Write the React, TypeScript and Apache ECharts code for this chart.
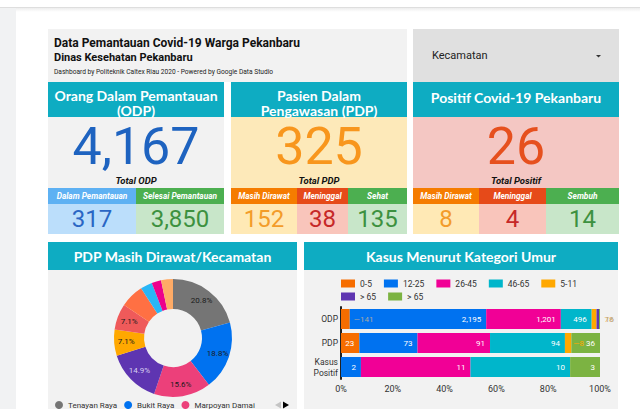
import React, { useEffect, useRef } from "react";
import * as echarts from "echarts";

// ---- Scorecards ----
const cardTitles = [
  ["Orang Dalam Pemantauan", "(ODP)"],
  ["Pasien Dalam", "Pengawasan (PDP)"],
  ["Positif Covid-19 Pekanbaru"],
];
const cardTotals = [4167, 325, 26];
const cardTotalLabels = ["Total ODP", "Total PDP", "Total Positif"];
const odpLabels = ["Dalam Pemantauan", "Selesai Pemantauan"];
const odpValues = [317, 3850];
const pdpLabels = ["Masih Dirawat", "Meninggal", "Sehat"];
const pdpValues = [152, 38, 135];
const positifLabels = ["Masih Dirawat", "Meninggal", "Sembuh"];
const positifValues = [8, 4, 14];

// ---- PDP masih dirawat per kecamatan ----
const pieNames = [
  "Tenayan Raya",
  "Bukit Raya",
  "Marpoyan Damai",
  "Tampan",
  "Payung Sekaki",
  "Sukajadi",
  "Lima Puluh",
  "Rumbai Pesisir",
  "Senapelan",
  "Sail",
];
const pieValues = [32, 29, 24, 23, 11, 11, 10, 5, 4, 5];
const pieLegendPage = pieNames.slice(0, 3);

// ---- Kasus menurut kategori umur ----
const ageGroups = ["0-5", "12-25", "26-45", "46-65", "5-11", "> 65", "> 65 "];
const caseRows = ["ODP", "PDP", "Kasus\nPositif"];
const odpByAge = [141, 2195, 1201, 496, 78, 40, 16];
const pdpByAge = [23, 73, 91, 94, 8, 0, 36];
const positifByAge = [0, 2, 11, 10, 0, 0, 3];

// ---- styling ----
const TEAL = "#0eacc2";
const FONT = "Roboto";
const HEAD_FONT = "Lato";
const pieColors = ["#757575", "#0072f0", "#ec407a", "#5e35b1", "#ffa800", "#ef5a5a", "#ff7043", "#29b6f6", "#ec008c", "#ffab66"];
const pieLabelColors = ["#1a1a1a", "#1a1a1a", "#1a1a1a", "#d8d0f0", "#1a1a1a", "#1a1a1a", "#1a1a1a", "#1a1a1a", "#1a1a1a", "#1a1a1a"];
const ageColors = ["#f66d00", "#0072f0", "#f10096", "#00b6cb", "#ffa800", "#5e35b1", "#7cb342"];

const fmt = (n: number) => n.toLocaleString("en-US");

const rect = (x: number, y: number, w: number, h: number, fill: string, z = 0) => ({
  type: "rect",
  silent: true,
  z,
  shape: { x, y, width: w, height: h },
  style: { fill },
});

const text = (x: number, y: number, t: string, font: string, fill: string, align = "center", lineHeight?: number) => ({
  type: "text",
  silent: true,
  z: 1,
  x,
  y,
  style: { text: t, font, fill, textAlign: align, textVerticalAlign: "middle", ...(lineHeight ? { lineHeight } : {}) },
});

const tri = (points: number[][], fill: string) => ({
  type: "polygon",
  silent: true,
  z: 3,
  shape: { points },
  style: { fill },
});

type Card = {
  x: number;
  w: number;
  body: string;
  numColor: string;
  splits: number[];
  subHead: string[];
  subBg: string[];
  subColor: string[];
  labels: string[];
  values: number[];
};

const cards: Card[] = [
  {
    x: 48, w: 176, body: "#f2f2f2", numColor: "#1e63c0", splits: [48, 136, 224],
    subHead: ["#5eb1f3", "#4caf50"], subBg: ["#bbdefb", "#c8e6c9"], subColor: ["#2a66c4", "#3d9140"],
    labels: odpLabels, values: odpValues,
  },
  {
    x: 231, w: 176, body: "#fde9b9", numColor: "#f8961d", splits: [231, 297, 348, 407],
    subHead: ["#f57c00", "#e64a19", "#4caf50"], subBg: ["#ffe9b5", "#f9c5bb", "#c8e6c9"], subColor: ["#f39c2a", "#c62828", "#3d9140"],
    labels: pdpLabels, values: pdpValues,
  },
  {
    x: 413, w: 206, body: "#f4c7c3", numColor: "#e6501e", splits: [413, 479, 546, 619],
    subHead: ["#f57c00", "#e64a19", "#4caf50"], subBg: ["#ffe9b5", "#f9c5bb", "#c8e6c9"], subColor: ["#f39c2a", "#c62828", "#3d9140"],
    labels: positifLabels, values: positifValues,
  },
];

function buildGraphics() {
  const g: any[] = [];
  // page chrome
  g.push(rect(0, 7, 640, 1, "#dedede"));
  g.push({
    type: "rect", silent: true, z: 0, shape: { x: 0, y: 8, width: 640, height: 4 },
    style: { fill: new echarts.graphic.LinearGradient(0, 0, 0, 1, [{ offset: 0, color: "rgba(0,0,0,0.07)" }, { offset: 1, color: "rgba(0,0,0,0)" }]) },
  });
  g.push(rect(0, 8, 16, 401, "#f1f2f3"));

  // title block
  g.push(rect(48, 29, 359, 53, "#f2f2f2"));
  g.push(text(54, 43, "Data Pemantauan Covid-19 Warga Pekanbaru", `bold 12px ${FONT}`, "#111", "left"));
  g.push(text(54, 57, "Dinas Kesehatan Pekanbaru", `bold 11px ${FONT}`, "#111", "left"));
  g.push(text(54, 72, "Dashboard by Politeknik Caltex Riau 2020 - Powered by Google Data Studio", `6.6px ${FONT}`, "#222", "left"));

  // dropdown
  g.push(rect(413, 29, 206, 53, "#e0e0e0"));
  g.push(text(432, 55, "Kecamatan", `11px ${FONT}`, "#222", "left"));
  g.push(tri([[596, 55], [601, 55], [598.5, 57.5]], "#333"));

  // scorecards
  cards.forEach((c, i) => {
    const cx = c.x + c.w / 2;
    g.push(rect(c.x, 82, c.w, 35, TEAL));
    const lines = cardTitles[i];
    if (lines.length === 2) {
      g.push(text(cx, 95, lines[0], `bold 14px ${HEAD_FONT}`, "#fff"));
      g.push(text(cx, 110, lines[1], `bold 14px ${HEAD_FONT}`, "#fff"));
    } else {
      g.push(text(cx, 97, lines[0], `bold 14px ${HEAD_FONT}`, "#fff"));
    }
    g.push(rect(c.x, 117, c.w, 71, c.body));
    g.push(text(cx, 146.5, fmt(cardTotals[i]), `52px ${FONT}`, c.numColor, "center", 40));
    g.push(text(cx, 180.5, cardTotalLabels[i], `italic bold 9.5px ${FONT}`, "#111", "center", 9));
    c.values.forEach((v, j) => {
      const sx = c.splits[j];
      const sw = c.splits[j + 1] - sx;
      g.push(rect(sx, 188, sw, 16, c.subHead[j]));
      g.push(text(sx + sw / 2, 196, c.labels[j], `italic bold 8.3px ${FONT}`, "#fff"));
      g.push(rect(sx, 204, sw, 30, c.subBg[j]));
      g.push(text(sx + sw / 2, 219, fmt(v), `24px ${FONT}`, c.subColor[j], "center", 22));
    });
  });

  // lower panels
  g.push(rect(48, 242, 249, 28, TEAL));
  g.push(rect(48, 270, 249, 139, "#f2f2f2"));
  g.push(text(172.5, 256, "PDP Masih Dirawat/Kecamatan", `bold 14px ${HEAD_FONT}`, "#fff"));
  g.push(rect(304, 242, 314, 28, TEAL));
  g.push(rect(304, 270, 314, 139, "#f2f2f2"));
  g.push(text(461, 256, "Kasus Menurut Kategori Umur", `bold 14px ${HEAD_FONT}`, "#fff"));

  // legend pager arrows (first page: back disabled, forward active)
  g.push(tri([[275, 405], [281, 401.5], [281, 408.5]], "#c4c4c4"));
  g.push(tri([[289, 405], [283, 401.5], [283, 408.5]], "#000"));
  return g;
}

// label placements for segments too narrow to hold their value
const smallLabels: Record<string, any> = {
  "0-0": { position: "right", distance: 4, color: "#a8a8a8", prefix: "—" },
  "0-4": { position: "right", distance: 8, color: "#f3b65a", prefix: "" },
  "0-5": { show: false },
  "0-6": { position: "right", distance: 5, color: "#b0a890", prefix: "" },
  "1-4": { position: "right", distance: 2, color: "#ffa800", prefix: "—" },
};

function buildBars() {
  const rows = [odpByAge, pdpByAge, positifByAge];
  const totals = rows.map((r) => r.reduce((a, b) => a + b, 0));
  return ageGroups.map((name, gi) => ({
    type: "bar",
    name,
    stack: "umur",
    barWidth: 20,
    itemStyle: { color: ageColors[gi] },
    label: {
      show: true,
      position: "insideRight",
      color: "#fff",
      fontSize: 8,
      fontFamily: FONT,
    },
    data: rows.map((r, ri) => {
      const raw = r[gi];
      const item: any = { value: (raw / totals[ri]) * 100 };
      const special = smallLabels[`${ri}-${gi}`];
      if (raw === 0) {
        item.label = { show: false };
      } else if (special) {
        item.label =
          special.show === false
            ? { show: false }
            : {
                show: true,
                position: special.position,
                distance: special.distance,
                color: special.color,
                formatter: special.prefix + fmt(raw),
              };
      } else {
        item.label = { formatter: fmt(raw) };
      }
      return item;
    }),
  }));
}

const legendText = { fontSize: 8.5, color: "#333", fontFamily: FONT };

export default function App() {
  const ref = useRef<HTMLDivElement>(null);

  useEffect(() => {
    if (!ref.current) return;
    const chart = echarts.init(ref.current, null, { renderer: "svg" });
    chart.setOption({
      animation: false,
      backgroundColor: "#ffffff",
      textStyle: { fontFamily: FONT },
      graphic: { elements: buildGraphics() },
      legend: [
        {
          data: pieLegendPage,
          left: 55,
          top: 401,
          padding: 0,
          icon: "circle",
          itemWidth: 8,
          itemHeight: 8,
          itemGap: 7,
          selectedMode: false,
          textStyle: { fontSize: 8, color: "#333", fontFamily: FONT },
        },
        {
          data: ageGroups.slice(0, 5),
          left: 341,
          top: 279,
          padding: 0,
          icon: "rect",
          itemWidth: 14,
          itemHeight: 8,
          itemGap: 12,
          selectedMode: false,
          textStyle: legendText,
        },
        {
          data: ageGroups.slice(5),
          left: 341,
          top: 292,
          padding: 0,
          icon: "rect",
          itemWidth: 14,
          itemHeight: 8,
          itemGap: 12,
          selectedMode: false,
          textStyle: legendText,
        },
      ],
      grid: { left: 341, top: 307, width: 259, height: 72, containLabel: false },
      xAxis: {
        type: "value",
        min: 0,
        max: 100,
        interval: 20,
        axisLine: { show: false },
        axisTick: { show: false },
        splitLine: { show: false },
        axisLabel: { formatter: "{value}%", fontSize: 9, color: "#333", margin: 5 },
      },
      yAxis: {
        type: "category",
        data: caseRows,
        inverse: true,
        axisLine: { show: true, lineStyle: { color: "#222", width: 2 } },
        axisTick: { show: false },
        axisLabel: { fontSize: 8.5, color: "#333", margin: 3, lineHeight: 11, align: "right" },
      },
      series: [
        {
          type: "pie",
          center: [173, 338],
          radius: [29, 59],
          startAngle: 90,
          clockwise: true,
          percentPrecision: 1,
          label: {
            show: true,
            position: "inside",
            fontSize: 8,
            fontFamily: FONT,
            formatter: (p: any) => (p.percent >= 7 ? `${p.percent.toFixed(1)}%` : ""),
          },
          labelLine: { show: false },
          emphasis: { disabled: true },
          data: pieNames.map((name, i) => ({
            name,
            value: pieValues[i],
            itemStyle: { color: pieColors[i] },
            label: { color: pieLabelColors[i] },
          })),
        },
        ...buildBars(),
      ],
    });
    return () => chart.dispose();
  }, []);

  return <div ref={ref} style={{ position: "fixed", left: 0, top: 0, width: 640, height: 409 }} />;
}
